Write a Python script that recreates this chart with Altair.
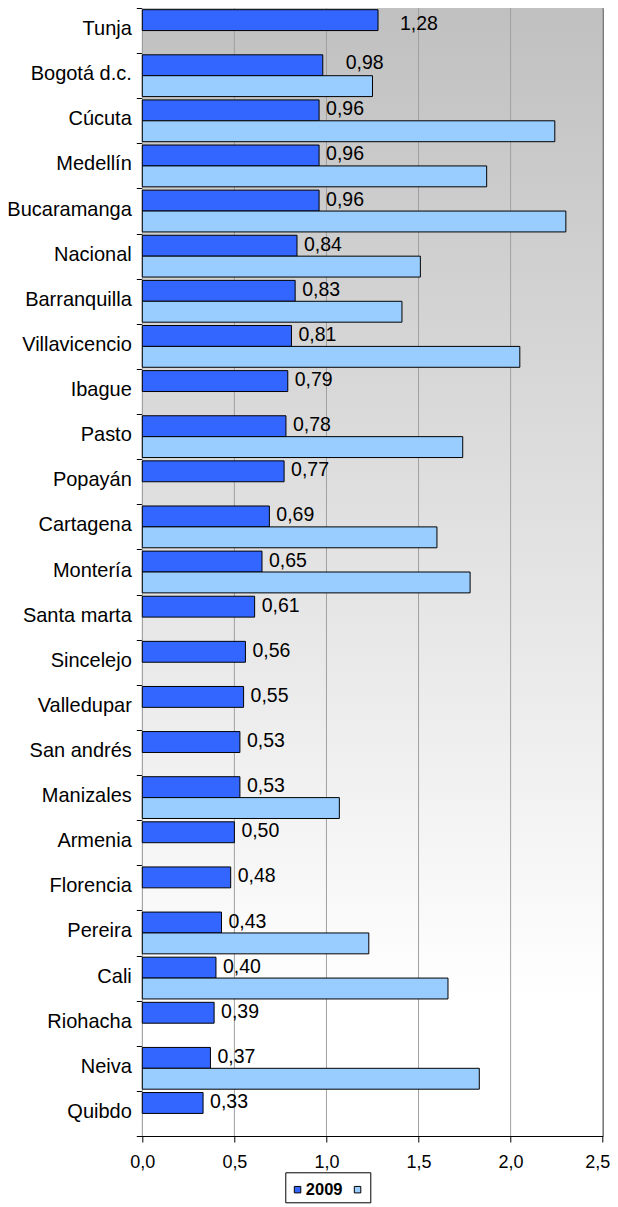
import altair as alt
import pandas as pd

cities = ["Tunja", "Bogotá d.c.", "Cúcuta", "Medellín", "Bucaramanga", "Nacional",
          "Barranquilla", "Villavicencio", "Ibague", "Pasto", "Popayán", "Cartagena",
          "Montería", "Santa marta", "Sincelejo", "Valledupar", "San andrés", "Manizales",
          "Armenia", "Florencia", "Pereira", "Cali", "Riohacha", "Neiva", "Quibdo"]
v2009 = [1.28, 0.98, 0.96, 0.96, 0.96, 0.84, 0.83, 0.81, 0.79, 0.78, 0.77, 0.69, 0.65,
         0.61, 0.56, 0.55, 0.53, 0.53, 0.50, 0.48, 0.43, 0.40, 0.39, 0.37, 0.33]
v_other = [None, 1.25, 2.24, 1.87, 2.30, 1.51, 1.41, 2.05, None, 1.74, None, 1.60, 1.78,
           None, None, None, None, 1.07, None, None, 1.23, 1.66, None, 1.83, None]
series = ["2009", ""]
x_ticks = [0.0, 0.5, 1.0, 1.5, 2.0, 2.5]

rows = []
for c, a, b in zip(cities, v2009, v_other):
    rows.append({"ciudad": c, "serie": series[0], "valor": a})
    if b is not None:
        rows.append({"ciudad": c, "serie": series[1], "valor": b})
df = pd.DataFrame(rows)
lab = pd.DataFrame({"ciudad": cities, "serie": series[0], "valor": v2009})
grid_df = pd.DataFrame({"valor": x_ticks})

FONT = "Liberation Sans"

x_scale = alt.Scale(domain=[0, 2.5], nice=False, zero=True)
x_enc = alt.X("valor:Q", scale=x_scale,
              axis=alt.Axis(values=x_ticks, title=None, grid=False,
                            domainColor="black", tickColor="black", tickSize=6,
                            labelFontSize=18, labelFont=FONT, labelColor="black",
                            labelPadding=12, labelFlush=False, labelOverlap=False,
                            labelOffset=alt.condition("datum.value >= 2.5",
                                                      alt.value(-5.5), alt.value(0)),
                            labelExpr="replace(format(datum.value, '.1f'), '.', ',')"))
y_enc = alt.Y("ciudad:N", sort=cities,
              scale=alt.Scale(paddingInner=0, paddingOuter=0),
              axis=alt.Axis(title=None, grid=False, domainColor="black", tickColor="black",
                            tickSize=6, tickBand="extent", labelFontSize=20, labelFont=FONT,
                            labelColor="black", labelPadding=5, labelOffset=-2,
                            labelLimit=200))
yoff_enc = alt.YOffset("serie:N", sort=series,
                       scale=alt.Scale(domain=series, paddingOuter=0.08, paddingInner=0))

bg = alt.Chart(pd.DataFrame({"k": [0]})).mark_rect(
    color=alt.LinearGradient(gradient="linear", x1=0, y1=0, x2=0, y2=1,
                             stops=[alt.GradientStop(color="#c0c0c0", offset=0),
                                    alt.GradientStop(color="#ffffff", offset=0.88)])
).encode(x=alt.value(0), x2=alt.value("width"), y=alt.value(0), y2=alt.value("height"))

grid = alt.Chart(grid_df).mark_rule(color="#a0a0a0", strokeWidth=1).encode(
    x=alt.X("valor:Q", scale=x_scale)
)

bars = alt.Chart(df).mark_bar(stroke="black", strokeWidth=1).encode(
    x=x_enc, y=y_enc, yOffset=yoff_enc,
    color=alt.Color("serie:N", sort=series,
                    scale=alt.Scale(domain=series, range=["#3366ff", "#99ccff"]),
                    legend=alt.Legend(orient="none", legendX=143.0, legendY=1164.3,
                                      direction="horizontal", title=" ", titleFontSize=5,
                                      titlePadding=0, strokeColor="black", fillColor="white",
                                      padding=4, symbolType="square", symbolSize=42,
                                      symbolStrokeColor="black", symbolStrokeWidth=1,
                                      labelFontSize=16.5, labelFontWeight="bold",
                                      labelFont=FONT, labelColor="black", labelOffset=0,
                                      labelExpr="datum.label ? '\u00a0\u00a0' + datum.label : ''",
                                      columnPadding=6))
)

text_base = alt.Chart(lab).transform_calculate(
    texto="replace(format(datum.valor, '.2f'), '.', ',')"
)
enc = dict(x="valor:Q", y=alt.Y("ciudad:N", sort=cities), yOffset=yoff_enc, text="texto:N")

txt_main = text_base.transform_filter(
    "datum.ciudad != 'Tunja' && datum.ciudad != 'Bogotá d.c.'"
).mark_text(align="left", baseline="middle", dx=7, dy=-1, fontSize=19.5, font=FONT,
            color="black").encode(**enc)
txt_tunja = text_base.transform_filter("datum.ciudad == 'Tunja'").mark_text(
    align="left", baseline="middle", dx=22, dy=4, fontSize=19.5, font=FONT,
    color="black").encode(**enc)
txt_bog = text_base.transform_filter("datum.ciudad == 'Bogotá d.c.'").mark_text(
    align="left", baseline="middle", dx=23, dy=-2, fontSize=19.5, font=FONT,
    color="black").encode(**enc)

chart = alt.layer(bg, grid, bars, txt_main, txt_tunja, txt_bog).properties(
    width=460.4, height=1128, autosize="none",
    padding={"left": 134.3, "top": 0, "right": 7, "bottom": 71},
    background="white",
).configure_view(
    stroke="#333333", strokeWidth=1,
)

chart.save("out.html", embed_options={"renderer": "svg", "actions": False})
